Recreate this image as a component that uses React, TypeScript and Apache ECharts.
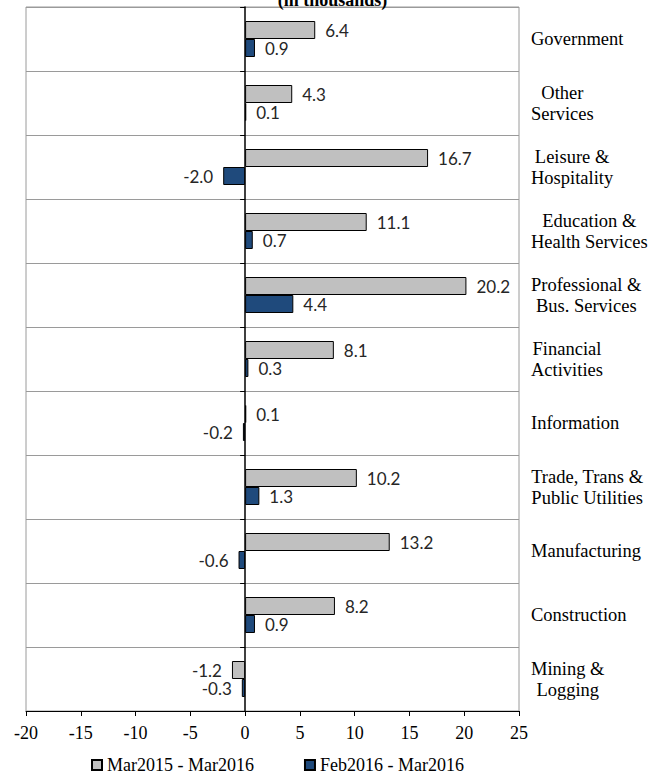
import React, { useEffect, useRef } from "react";
import * as echarts from "echarts";

const categories = [
  "Government",
  "Other\nServices",
  "Leisure &\nHospitality",
  "Education &\nHealth Services",
  "Professional &\nBus. Services",
  "Financial\nActivities",
  "Information",
  "Trade, Trans &\nPublic Utilities",
  "Manufacturing",
  "Construction",
  "Mining &\nLogging",
];
const yearChange = [6.4, 4.3, 16.7, 11.1, 20.2, 8.1, 0.1, 10.2, 13.2, 8.2, -1.2];
const monthChange = [0.9, 0.1, -2.0, 0.7, 4.4, 0.3, -0.2, 1.3, -0.6, 0.9, -0.3];
const seriesNames = ["Mar2015 - Mar2016", "Feb2016 - Mar2016"];
const titleText = "(in thousands)";
const xMin = -20;
const xMax = 25;
const xInterval = 5;

const SERIF = "'Liberation Serif', 'DejaVu Serif', serif";
const LABEL_FONT = "Lato, 'Noto Sans', sans-serif";

function barData(values: number[]) {
  return values.map((v) => ({
    value: v,
    label: { position: v < 0 ? "left" : "right" },
  }));
}

export default function App() {
  const ref = useRef<HTMLDivElement>(null);
  useEffect(() => {
    document.body.style.margin = "0";
    if (!ref.current) return;
    const chart = echarts.init(ref.current, null, { renderer: "svg" });
    const labelCommon = {
      show: true,
      distance: 10,
      fontFamily: LABEL_FONT,
      fontSize: 17,
      color: "#262626",
      formatter: (p: any) => Number(p.value).toFixed(1),
    };
    chart.setOption({
      animation: false,
      backgroundColor: "#ffffff",
      title: {
        text: titleText,
        left: "center",
        top: -14,
        textStyle: { fontFamily: SERIF, fontSize: 18, fontWeight: "bold", color: "#000" },
      },
      legend: {
        left: 86,
        top: 751,
        itemWidth: 10,
        itemHeight: 10,
        itemGap: 50,
        icon: "rect",
        textStyle: { fontFamily: SERIF, fontSize: 18, color: "#000" },
        data: seriesNames,
      },
      grid: {
        left: 26,
        right: 146,
        top: 7,
        bottom: 65,
        show: true,
        borderColor: "#9a9a9a",
        borderWidth: 1,
        containLabel: false,
      },
      xAxis: {
        type: "value",
        min: xMin,
        max: xMax,
        interval: xInterval,
        axisLine: { show: true, lineStyle: { color: "#000", width: 1 } },
        axisTick: { show: true, length: 5, lineStyle: { color: "#000" } },
        axisLabel: { fontFamily: SERIF, fontSize: 18, color: "#000", margin: 13 },
        splitLine: { show: false },
      },
      yAxis: [
        {
          type: "category",
          data: categories,
          inverse: true,
          position: "right",
          axisLine: { show: false, onZero: false },
          axisTick: { show: false },
          splitLine: { show: true, interval: 0, lineStyle: { color: "#9a9a9a", width: 1 } },
          axisLabel: {
            interval: 0,
            margin: 12,
            align: "left",
            formatter: (v: string) =>
              v
                .split("\n")
                .map((l) => `{c|${l}}`)
                .join("\n"),
            rich: {
              c: { align: "center", fontFamily: SERIF, fontSize: 18.5, lineHeight: 21, color: "#000" },
            },
          },
        },
        {
          type: "category",
          data: categories,
          inverse: true,
          position: "left",
          axisLine: { show: true, onZero: true, lineStyle: { color: "#000", width: 1.5 } },
          axisTick: { show: true, interval: 0, length: 5, inside: false, lineStyle: { color: "#000" } },
          axisLabel: { show: false },
          splitLine: { show: false },
        },
      ],
      series: [
        {
          name: seriesNames[0],
          type: "bar",
          yAxisIndex: 0,
          barWidth: 18,
          barGap: "0%",
          data: barData(yearChange),
          itemStyle: { color: "#c0c0c0", borderColor: "#000", borderWidth: 1 },
          label: labelCommon,
        },
        {
          name: seriesNames[1],
          type: "bar",
          yAxisIndex: 0,
          barWidth: 18,
          barGap: "0%",
          data: barData(monthChange),
          itemStyle: { color: "#1f4a7c", borderColor: "#000", borderWidth: 1 },
          label: labelCommon,
        },
      ],
    });
    return () => chart.dispose();
  }, []);
  return <div ref={ref} style={{ width: 665, height: 776 }} />;
}
